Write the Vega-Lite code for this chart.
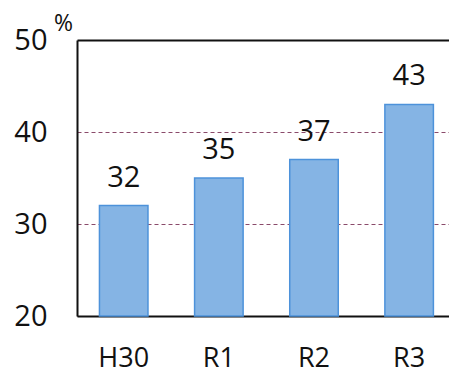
{
  "$schema": "https://vega.github.io/schema/vega-lite/v6.json",
  "autosize": "none",
  "width": 372,
  "height": 276,
  "padding": {"left": 77, "top": 40, "right": 0, "bottom": 57},
  "background": "white",
  "config": {
    "font": "Open Sans",
    "view": {"stroke": null}
  },
  "data": {
    "values": [
      {"year": "H30", "pct": 32},
      {"year": "R1", "pct": 35},
      {"year": "R2", "pct": 37},
      {"year": "R3", "pct": 43}
    ]
  },
  "encoding": {
    "x": {
      "field": "year",
      "type": "nominal",
      "sort": null,
      "scale": {"paddingInner": 0.49, "paddingOuter": 0.2, "align": 0.59},
      "axis": {
        "title": null,
        "labelAngle": 0,
        "labelFontSize": 27,
        "labelColor": "#111111",
        "labelPadding": 29,
        "ticks": false,
        "domain": true,
        "domainColor": "#111111",
        "domainWidth": 2
      }
    },
    "y": {
      "field": "pct",
      "type": "quantitative",
      "scale": {"domain": [20, 50], "nice": false},
      "axis": {
        "values": [20, 30, 40, 50],
        "title": "%",
        "titleAngle": 0,
        "titleFontSize": 23,
        "titleFontWeight": "normal",
        "titleColor": "#111111",
        "titleX": -14,
        "titleY": -17,
        "titleAlign": "center",
        "titleBaseline": "middle",
        "labelFontSize": 29,
        "labelColor": "#111111",
        "labelPadding": 30,
        "ticks": false,
        "domain": true,
        "domainColor": "#111111",
        "domainWidth": 2,
        "grid": true,
        "gridColor": {
          "condition": {"test": "datum.value == 50", "value": "#111111"},
          "value": "#8a4a6a"
        },
        "gridDash": {
          "condition": {"test": "datum.value == 50", "value": []},
          "value": [4, 3]
        },
        "gridWidth": {
          "condition": {"test": "datum.value == 50", "value": 2},
          "value": 1
        }
      }
    }
  },
  "layer": [
    {
      "mark": {
        "type": "bar",
        "fill": "#85b4e4",
        "stroke": "#4d92da",
        "strokeWidth": 1.5
      },
      "encoding": {
        "y2": {"datum": 20}
      }
    },
    {
      "mark": {
        "type": "text",
        "baseline": "alphabetic",
        "dy": -19,
        "fontSize": 29,
        "color": "#111111"
      },
      "encoding": {
        "text": {"field": "pct", "type": "quantitative"}
      }
    }
  ]
}
